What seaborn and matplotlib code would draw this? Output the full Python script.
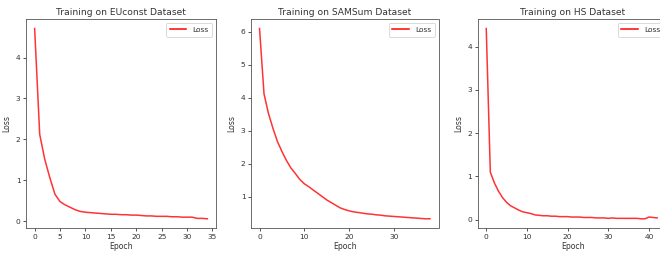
import matplotlib
matplotlib.use("Agg")
import matplotlib.pyplot as plt
import seaborn as sns
import pandas as pd

titles = ["Training on EUconst Dataset", "Training on SAMSum Dataset", "Training on HS Dataset"]

euconst_loss = [4.71, 2.12, 1.51, 1.06, 0.66, 0.48, 0.40, 0.34, 0.28, 0.24,
                0.22, 0.21, 0.20, 0.19, 0.18, 0.17, 0.17, 0.16, 0.16, 0.15,
                0.15, 0.14, 0.13, 0.13, 0.12, 0.12, 0.12, 0.11, 0.11, 0.10,
                0.10, 0.10, 0.07, 0.07, 0.06]

samsum_loss = [6.10, 4.12, 3.52, 3.07, 2.67, 2.37, 2.10, 1.87, 1.70, 1.52,
               1.39, 1.30, 1.20, 1.10, 1.00, 0.90, 0.82, 0.74, 0.66, 0.61,
               0.57, 0.54, 0.52, 0.50, 0.48, 0.47, 0.45, 0.44, 0.42, 0.41,
               0.40, 0.39, 0.38, 0.37, 0.36, 0.35, 0.34, 0.33, 0.33]

hs_loss = [4.42, 1.10, 0.85, 0.66, 0.51, 0.40, 0.32, 0.27, 0.22, 0.18,
           0.16, 0.14, 0.11, 0.10, 0.09, 0.09, 0.08, 0.08, 0.07, 0.07,
           0.07, 0.06, 0.06, 0.06, 0.05, 0.05, 0.05, 0.04, 0.04, 0.04,
           0.03, 0.04, 0.03, 0.03, 0.03, 0.03, 0.03, 0.03, 0.02, 0.02,
           0.06, 0.05, 0.04]

series = [euconst_loss, samsum_loss, hs_loss]

fig = plt.figure(figsize=(6.6, 2.54), dpi=100)
positions = [
    [26/660, 1 - 228.3/254, 190/660, (228.3-19)/254],
    [251/660, 1 - 228.3/254, 187.5/660, (228.3-19)/254],
    [477.7/660, 1 - 228.3/254, 190/660, (228.3-19)/254],
]

text_color = "#333333"
axes = []
for pos, title, loss in zip(positions, titles, series):
    ax = fig.add_axes(pos)
    axes.append(ax)
    df = pd.DataFrame({"Epoch": list(range(len(loss))), "Loss": loss})
    sns.lineplot(data=df, x="Epoch", y="Loss", ax=ax, color="red", alpha=0.8,
                 linewidth=1.1, label="Loss")
    ax.set_title(title, fontsize=6.6, color=text_color, pad=3)
    ax.set_xlabel("Epoch", fontsize=5.6, color=text_color, labelpad=1.5)
    ax.set_ylabel("Loss", fontsize=5.6, color=text_color, labelpad=3)
    ax.tick_params(labelsize=5.4, length=2.5, width=0.6, pad=1.5, colors=text_color)
    for s in ax.spines.values():
        s.set_linewidth(0.6)
        s.set_color("#555555")
    leg = ax.legend(loc="upper right", fontsize=5.4, handlelength=2.2,
                    borderpad=0.5, framealpha=1)
    leg.get_frame().set_linewidth(0.5)
    for t in leg.get_texts():
        t.set_color(text_color)
    for l in leg.get_lines():
        l.set_alpha(1)

axes[2].set_xlim(-2.1, 44.6)

fig.savefig("out.png", dpi=100)
